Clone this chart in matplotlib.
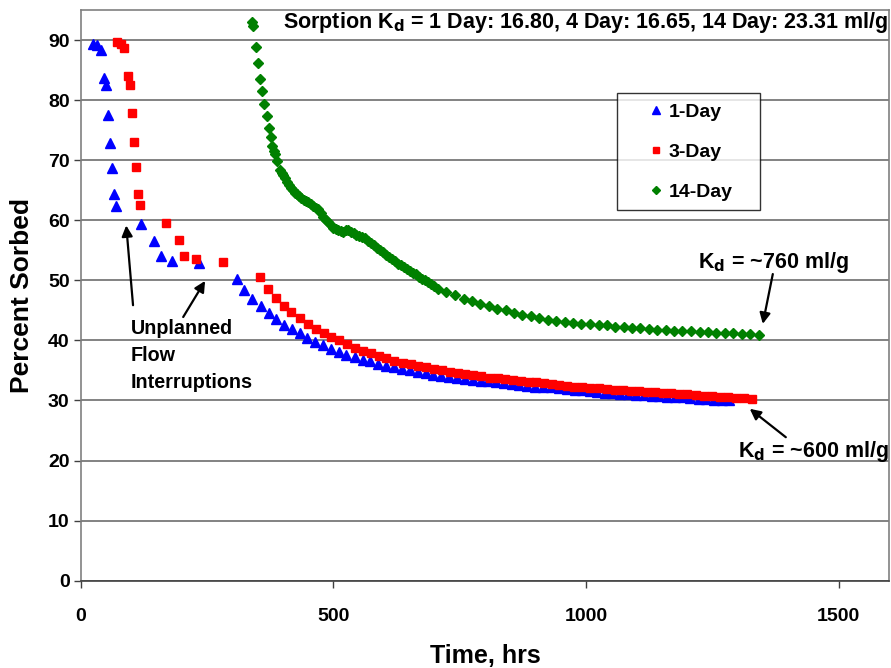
import matplotlib
matplotlib.use("Agg")
import matplotlib.pyplot as plt

plt.rcParams['font.family'] = ['Liberation Sans', 'DejaVu Sans']
plt.rcParams['font.weight'] = 'bold'

# 1-Day column
t1 = [24, 32, 40, 47, 51, 54, 58, 62, 66, 70, 119, 146, 158, 181, 235,
      310, 323, 340, 356, 372, 386, 402, 418, 434, 447, 463, 480, 496, 511,
      526, 543, 558, 572, 589, 604, 620, 635, 651, 667, 683, 697, 714, 729,
      745, 761, 776, 792, 807, 822, 838, 853, 868, 884, 900, 916, 931, 947,
      962, 978, 993, 1009, 1021, 1037, 1052, 1068, 1083, 1099, 1114, 1130,
      1145, 1161, 1176, 1192, 1207, 1223, 1238, 1254, 1269, 1284]
p1 = [89.4, 89.2, 88.3, 83.7, 82.5, 77.6, 72.9, 68.7, 64.3, 62.3, 59.3, 56.5,
      54.0, 53.3, 52.9, 50.2, 48.4, 46.9, 45.7, 44.6, 43.6, 42.6, 41.9, 41.2,
      40.4, 39.7, 39.2, 38.6, 38.1, 37.6, 37.2, 36.8, 36.5, 36.1, 35.8, 35.6,
      35.3, 35.0, 34.8, 34.6, 34.3, 34.0, 33.9, 33.7, 33.6, 33.4, 33.3, 33.2,
      33.1, 32.9, 32.7, 32.6, 32.4, 32.3, 32.2, 32.2, 32.0, 31.9, 31.8, 31.7,
      31.5, 31.4, 31.3, 31.2, 31.1, 31.0, 30.95, 30.9, 30.8, 30.7, 30.6, 30.55,
      30.5, 30.4, 30.3, 30.2, 30.15, 30.1, 30.0]

# 3-Day column
t3 = [71, 80, 86, 94, 98, 101, 105, 109, 113, 117, 168, 194, 204, 228, 282,
      355, 371, 387, 402, 417, 434, 450, 465, 481, 496, 511, 527, 543, 558,
      574, 590, 605, 620, 637, 653, 668, 684, 699, 716, 730, 746, 761, 777,
      793, 810, 825, 839, 856, 871, 887, 901, 917, 932, 947, 962, 977, 993,
      1009, 1025, 1041, 1057, 1073, 1089, 1105, 1121, 1137, 1153, 1169, 1185,
      1201, 1217, 1233, 1249, 1265, 1281, 1297, 1313, 1328]
p3 = [89.7, 89.3, 88.7, 84.0, 82.6, 77.8, 73.1, 68.9, 64.4, 62.5, 59.5, 56.7,
      54.1, 53.6, 53.1, 50.5, 48.6, 47.1, 45.8, 44.7, 43.7, 42.8, 41.95, 41.2,
      40.6, 40.0, 39.4, 38.8, 38.3, 37.9, 37.45, 37.1, 36.6, 36.3, 36.1, 35.8,
      35.6, 35.3, 35.0, 34.8, 34.6, 34.4, 34.2, 34.0, 33.8, 33.7, 33.6, 33.45,
      33.3, 33.1, 33.0, 32.9, 32.7, 32.6, 32.45, 32.3, 32.2, 32.1, 32.0, 31.9,
      31.8, 31.7, 31.6, 31.5, 31.4, 31.35, 31.3, 31.2, 31.1, 31.0, 30.9, 30.8,
      30.7, 30.6, 30.5, 30.45, 30.4, 30.3]

# 14-Day column
t14 = [339, 341, 347, 351, 355, 359, 363, 368, 372, 376, 379, 382, 384, 388,
       395, 398, 400, 404, 408, 412, 416, 420, 424, 428, 432, 437, 441, 445,
       450, 455, 460, 465, 470, 475, 480, 485, 490, 495, 500, 505, 510, 515,
       520, 525, 530, 535, 540, 545, 550, 556, 562, 568, 574, 580, 586, 592,
       598, 604, 610, 616, 622, 628, 634, 640, 646, 652, 658, 664, 670, 676,
       682, 688, 694, 700, 707, 724, 741, 758, 774, 791, 808, 824, 841, 858,
       874, 891, 908, 925, 941, 958, 974, 991, 1008, 1025, 1041, 1058, 1075,
       1091, 1108, 1125, 1141, 1158, 1175, 1191, 1208, 1225, 1241, 1258, 1275,
       1291, 1308, 1325, 1342]
p14 = [93.0, 92.4, 88.8, 86.2, 83.6, 81.5, 79.3, 77.3, 75.4, 73.8, 72.3, 71.5,
       71.1, 69.8, 68.3, 67.8, 67.6, 67.0, 66.4, 65.9, 65.4, 65.0, 64.6, 64.3,
       64.0, 63.7, 63.4, 63.2, 63.0, 62.7, 62.4, 62.1, 61.8, 61.2, 60.6, 60.1,
       59.7, 59.2, 58.7, 58.5, 58.4, 58.2, 58.1, 58.4, 58.3, 58.1, 57.9, 57.6,
       57.4, 57.2, 57.0, 56.6, 56.2, 55.8, 55.4, 55.1, 54.7, 54.3, 53.9, 53.5,
       53.2, 52.8, 52.5, 52.2, 51.9, 51.6, 51.3, 51.0, 50.6, 50.3, 50.0, 49.7,
       49.4, 49.0, 48.6, 48.1, 47.5, 46.9, 46.5, 46.0, 45.7, 45.3, 45.0, 44.6,
       44.3, 44.0, 43.7, 43.4, 43.2, 43.0, 42.9, 42.8, 42.7, 42.6, 42.5, 42.3,
       42.2, 42.1, 42.0, 41.9, 41.8, 41.7, 41.6, 41.6, 41.5, 41.4, 41.4, 41.3,
       41.2, 41.2, 41.1, 41.1, 40.9]

fig = plt.figure(figsize=(8.91, 6.68), dpi=100)
ax = fig.add_axes([0.0906, 0.1307, 0.9072, 0.8543])

ax.plot(t1, p1, linestyle='none', marker='^', ms=7.5, color='#0000ff', mec='#0000ff', label='1-Day')
ax.plot(t3, p3, linestyle='none', marker='s', ms=6.3, color='#ff0000', mec='#ff0000', label='3-Day')
ax.plot(t14, p14, linestyle='none', marker='D', ms=5.3, color='#008000', mec='#008000', label='14-Day')

ax.set_xlim(0, 1600)
ax.set_ylim(0, 95)
ax.set_xticks([0, 500, 1000, 1500])
ax.set_yticks(range(0, 100, 10))
ax.yaxis.grid(True, color='#606060', lw=1.1)
ax.set_axisbelow(True)
for s in ax.spines.values():
    s.set_color('#808080')
    s.set_linewidth(1.2)
ax.spines['bottom'].set_color('#404040')
ax.tick_params(direction='out', length=5, width=1, color='#404040',
               labelsize=14, pad=3)
ax.tick_params(axis='x', pad=15)
for lb in ax.get_xticklabels() + ax.get_yticklabels():
    lb.set_fontweight('bold')

ax.set_xlabel('Time, hrs', fontsize=18, fontweight='bold', labelpad=13)
ax.set_ylabel('Percent Sorbed', fontsize=19, fontweight='bold')
ax.yaxis.set_label_coords(-0.0578, 0.5)

ax.text(0.9988, 0.979, r'Sorption K$_\mathbf{d}$ = 1 Day: 16.80, 4 Day: 16.65, 14 Day: 23.31 ml/g',
        transform=ax.transAxes, ha='right', va='center', fontsize=15.5, fontweight='bold')

leg = ax.legend(loc='upper left', bbox_to_anchor=(0.664, 0.651, 0.176, 0.203),
                mode='expand', fontsize=14,
                frameon=True, fancybox=False, edgecolor='black', labelspacing=1.15,
                borderpad=0.5, handletextpad=-0.86, markerscale=0.75, handlelength=3.0,
                borderaxespad=0)
leg.get_frame().set_linewidth(1.0)

akw = dict(arrowstyle='-|>', color='black', lw=1.6, mutation_scale=16)
ax.text(99, 37.5, 'Unplanned\nFlow\nInterruptions', fontsize=14.2, fontweight='bold',
        ha='left', va='center', linespacing=1.55)
ax.annotate('', xy=(89.6, 59.6), xytext=(104, 45.4), arrowprops=akw)
ax.annotate('', xy=(249, 50.3), xytext=(200, 43.5), arrowprops=akw)

ax.text(1371, 52.9, r'K$_\mathbf{d}$ = ~760 ml/g', fontsize=15.5, fontweight='bold',
        ha='center', va='center')
ax.annotate('', xy=(1349, 42.3), xytext=(1371, 51.5), arrowprops=akw)
ax.text(1450, 21.5, r'K$_\mathbf{d}$ = ~600 ml/g', fontsize=15.5, fontweight='bold',
        ha='center', va='center')
ax.annotate('', xy=(1320, 28.9), xytext=(1400, 23.6), arrowprops=akw)

fig.savefig('out.png', dpi=100)
